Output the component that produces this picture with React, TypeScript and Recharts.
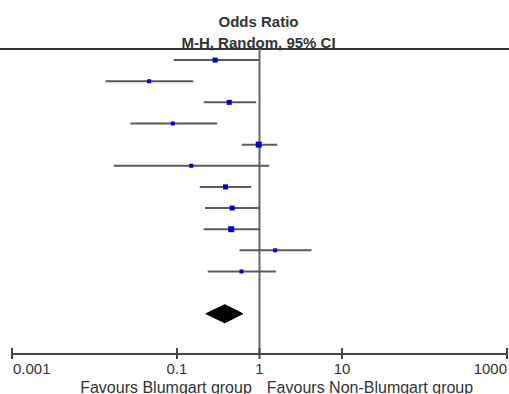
import {
  ComposedChart,
  XAxis,
  YAxis,
  Scatter,
  Area,
  ReferenceLine,
} from "recharts";

// study rows, top to bottom
const studyRows = [1, 2, 3, 4, 5, 6, 7, 8, 9, 10, 11];
const oddsRatios = [0.29, 0.046, 0.43, 0.089, 0.98, 0.149, 0.387, 0.467, 0.454, 1.55, 0.605];
const ciLower = [0.091, 0.0136, 0.211, 0.0273, 0.61, 0.0171, 0.189, 0.219, 0.211, 0.573, 0.236];
const ciUpper = [1.0, 0.157, 0.912, 0.307, 1.64, 1.31, 0.793, 1.0, 1.0, 4.27, 1.58];
const studyWeights = [5, 4, 5, 4, 6, 4, 5, 5, 6, 4, 4];

// pooled estimate
const pooledRow = 13;
const pooledOR = 0.38;
const pooledLower = 0.223;
const pooledUpper = 0.628;

const xTicks = [0.001, 0.1, 1, 10, 1000];
const tickLabels = ["0.001", "0.1", "1", "10", "1000"];

const FONT = '"Liberation Sans", Arial, sans-serif';
const LINE = "#5a5a5a";

const points = studyRows.map((row, i) => ({
  x: oddsRatios[i],
  y: row,
  w: studyWeights[i],
}));

const diamond = [
  { x: pooledLower, band: [pooledRow, pooledRow] },
  { x: pooledOR, band: [pooledRow - 0.43, pooledRow + 0.43] },
  { x: pooledUpper, band: [pooledRow, pooledRow] },
];

const SquareShape = (props: any) => {
  const { cx, cy, payload } = props;
  const s = payload.w;
  return <rect x={cx - s / 2} y={cy - s / 2} width={s} height={s} fill="#0000cc" />;
};

const AxisTick = (props: any) => {
  const { x, y, payload, index } = props;
  const anchor = index === 0 ? "start" : index === xTicks.length - 1 ? "end" : "middle";
  const dx = index === 0 ? 1 : 0;
  return (
    <g>
      <line x1={x} x2={x} y1={y - 6} y2={y + 5} stroke="#444" strokeWidth={2} />
      <text
        x={x + dx}
        y={y + 20}
        textAnchor={anchor}
        fontFamily={FONT}
        fontSize={15}
        fill="#333"
      >
        {tickLabels[xTicks.indexOf(payload.value)]}
      </text>
    </g>
  );
};

export default function App() {
  return (
    <div
      style={{
        position: "absolute",
        left: 0,
        top: 0,
        width: 509,
        height: 394,
        overflow: "hidden",
        background: "#fff",
        fontFamily: FONT,
      }}
    >
      {/* titre */}
      <div
        style={{
          position: "absolute",
          left: 0,
          width: 517,
          top: 11,
          textAlign: "center",
          fontWeight: "bold",
          fontSize: 15,
          lineHeight: "21px",
          color: "#333",
        }}
      >
        <div>Odds Ratio</div>
        <div>M-H, Random, 95% CI</div>
      </div>
      <div
        style={{
          position: "absolute",
          left: 0,
          top: 48,
          width: 509,
          height: 2,
          background: "#333",
        }}
      />

      <ComposedChart
        width={509}
        height={394}
        margin={{ top: 49, right: 2, left: 12, bottom: 0 }}
      >
        <XAxis
          type="number"
          dataKey="x"
          scale="log"
          domain={[0.001, 1000]}
          allowDataOverflow
          ticks={xTicks}
          interval={0}
          height={40}
          tickSize={0}
          tickMargin={0}
          tickLine={false}
          axisLine={{ stroke: "#444", strokeWidth: 2 }}
          tick={<AxisTick />}
        />
        <YAxis
          hide
          type="number"
          dataKey="y"
          domain={[0.476, 14.905]}
          reversed
          allowDataOverflow
        />
        <ReferenceLine x={1} stroke="#666" strokeWidth={2} />
        {studyRows.map((row, i) => (
          <ReferenceLine
            key={row}
            segment={[
              { x: ciLower[i], y: row },
              { x: ciUpper[i], y: row },
            ]}
            stroke={LINE}
            strokeWidth={2}
          />
        ))}
        <Scatter data={points} shape={<SquareShape />} isAnimationActive={false} />
        <Area
          data={diamond}
          dataKey="band"
          type="linear"
          stroke="#000"
          fill="#000"
          fillOpacity={1}
          isAnimationActive={false}
        />
      </ComposedChart>

      <div
        style={{
          position: "absolute",
          top: 379,
          left: 0,
          width: 509,
          fontSize: 16,
          color: "#333",
          whiteSpace: "nowrap",
        }}
      >
        <span style={{ position: "absolute", left: 166, transform: "translateX(-50%)" }}>
          Favours Blumgart group
        </span>
        <span style={{ position: "absolute", left: 370, transform: "translateX(-50%)" }}>
          Favours Non-Blumgart group
        </span>
      </div>
    </div>
  );
}
